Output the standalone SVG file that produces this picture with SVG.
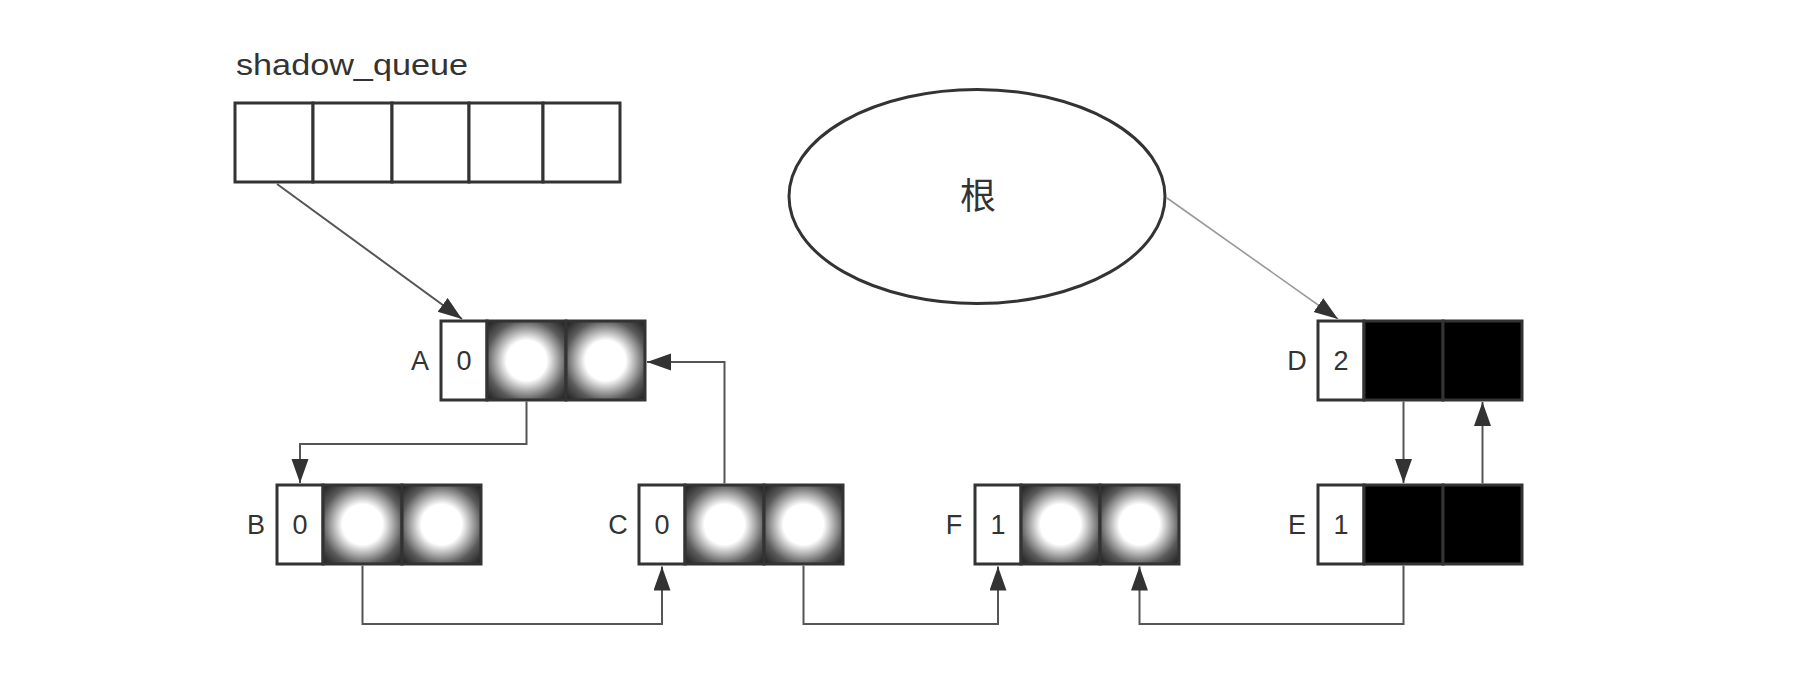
<svg xmlns="http://www.w3.org/2000/svg" width="1798" height="678" viewBox="0 0 1798 678">
<defs>
  <radialGradient id="glow" cx="0.5" cy="0.5" r="0.707">
    <stop offset="0" stop-color="#ffffff"/>
    <stop offset="0.36" stop-color="#ffffff"/>
    <stop offset="0.72" stop-color="#5a5a5a"/>
    <stop offset="1" stop-color="#1a1a1a"/>
  </radialGradient>
  <marker id="arrow" markerUnits="userSpaceOnUse" markerWidth="26" markerHeight="18" refX="24" refY="8.5" orient="auto">
    <path d="M0,0 L24,8.5 L0,17 z" fill="#333"/>
  </marker>
</defs>
<style>
  .box { stroke: #333; stroke-width: 3; }
  .white { fill: #fff; }
  .grad { fill: url(#glow); }
  .black { fill: #000; }
  .lbl { font-family: "Liberation Sans", "Noto Sans", sans-serif; font-size: 27px; fill: #333; text-anchor: middle; }
  .conn { fill: none; stroke: #555; stroke-width: 2; marker-end: url(#arrow); }
  .conn-light { fill: none; stroke: #999; stroke-width: 1.6; marker-end: url(#arrow); }
</style>
<rect width="1798" height="678" fill="#fff"/>

<g id="shadow_queue">
  <text x="236" y="75" font-family="'Liberation Sans', 'Noto Sans', sans-serif" font-size="29" fill="#333" textLength="232" lengthAdjust="spacingAndGlyphs">shadow_queue</text>
  <rect class="box white" x="235" y="103" width="78" height="79"/>
  <rect class="box white" x="313" y="103" width="79" height="79"/>
  <rect class="box white" x="392" y="103" width="77" height="79"/>
  <rect class="box white" x="469" y="103" width="74" height="79"/>
  <rect class="box white" x="543" y="103" width="77" height="79"/>
</g>

<g id="root">
  <ellipse cx="977" cy="196.5" rx="188" ry="107" fill="#fff" stroke="#333" stroke-width="3"/>
  <text x="978" y="209" font-family="'Noto Sans CJK SC', 'Noto Sans', sans-serif" font-size="36" fill="#333" text-anchor="middle">根</text>
</g>

<g id="node-A">
  <text class="lbl" x="420" y="370">A</text>
  <rect class="box white" x="441" y="321" width="46" height="79"/>
  <rect class="box grad" x="487" y="321" width="79" height="79"/>
  <rect class="box grad" x="566" y="321" width="79" height="79"/>
  <text class="lbl" x="464" y="370">0</text>
</g>

<g id="node-B">
  <text class="lbl" x="256" y="534">B</text>
  <rect class="box white" x="277" y="485" width="46" height="79"/>
  <rect class="box grad" x="323" y="485" width="79" height="79"/>
  <rect class="box grad" x="402" y="485" width="79" height="79"/>
  <text class="lbl" x="300" y="534">0</text>
</g>

<g id="node-C">
  <text class="lbl" x="618" y="534">C</text>
  <rect class="box white" x="639" y="485" width="46" height="79"/>
  <rect class="box grad" x="685" y="485" width="79" height="79"/>
  <rect class="box grad" x="764" y="485" width="79" height="79"/>
  <text class="lbl" x="662" y="534">0</text>
</g>

<g id="node-F">
  <text class="lbl" x="954" y="534">F</text>
  <rect class="box white" x="975" y="485" width="46" height="79"/>
  <rect class="box grad" x="1021" y="485" width="79" height="79"/>
  <rect class="box grad" x="1100" y="485" width="79" height="79"/>
  <text class="lbl" x="998" y="534">1</text>
</g>

<g id="node-D">
  <text class="lbl" x="1297" y="370">D</text>
  <rect class="box white" x="1318" y="321" width="46" height="79"/>
  <rect class="box black" x="1364" y="321" width="79" height="79"/>
  <rect class="box black" x="1443" y="321" width="79" height="79"/>
  <text class="lbl" x="1341" y="370">2</text>
</g>

<g id="node-E">
  <text class="lbl" x="1297" y="534">E</text>
  <rect class="box white" x="1318" y="485" width="46" height="79"/>
  <rect class="box black" x="1364" y="485" width="79" height="79"/>
  <rect class="box black" x="1443" y="485" width="79" height="79"/>
  <text class="lbl" x="1341" y="534">1</text>
</g>

<g id="connectors">
  <path class="conn" d="M277,184 L462,319"/>
  <path class="conn-light" d="M1167,198 L1338,319"/>
  <path class="conn" d="M526.5,401.5 V444 H300 V483"/>
  <path class="conn" d="M362.5,565.5 V624 H662 V566.5"/>
  <path class="conn" d="M724.5,483.5 V362 H647"/>
  <path class="conn" d="M803.5,565.5 V624 H998 V566.5"/>
  <path class="conn" d="M1403.5,565.5 V624 H1139.5 V566.5"/>
  <path class="conn" d="M1403.5,401.5 V483"/>
  <path class="conn" d="M1482.5,483.5 V402"/>
</g>
</svg>
